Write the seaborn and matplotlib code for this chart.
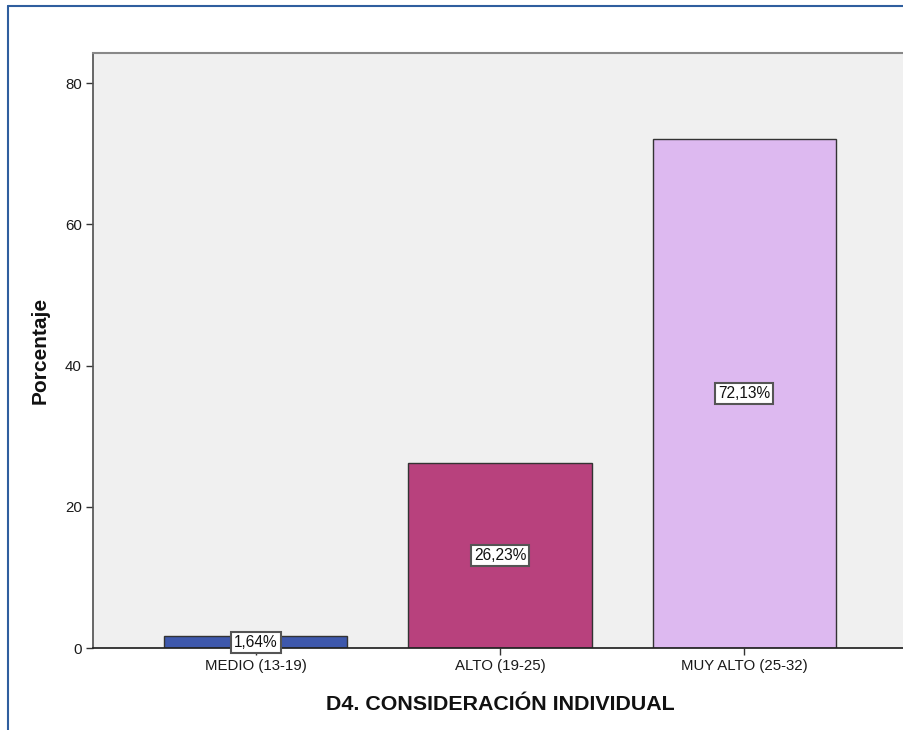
import matplotlib
matplotlib.use("Agg")
import matplotlib.pyplot as plt
import seaborn as sns
import pandas as pd
from matplotlib.lines import Line2D

categories = ["MEDIO (13-19)", "ALTO (19-25)", "MUY ALTO (25-32)"]
values = [1.64, 26.23, 72.13]
labels = ["1,64%", "26,23%", "72,13%"]
colors = ["#3E58AC", "#B8417D", "#DDB9F0"]
yticks = [0, 20, 40, 60, 80]

sns.set_theme(style="white")
plt.rcParams["font.family"] = ["Liberation Sans", "DejaVu Sans"]

df = pd.DataFrame({"cat": categories, "val": values})

fig = plt.figure(figsize=(9.04, 7.30), dpi=100)
fig.patch.set_facecolor("white")
ax = fig.add_axes([93/904, 82/730, 814/904, 595/730])
ax.set_facecolor("#F0F0F0")

sns.barplot(data=df, x="cat", y="val", hue="cat", palette=colors, legend=False,
            width=0.75, edgecolor="#333333", linewidth=1.0, saturation=1, ax=ax)

ax.set_xlim(-0.668, 2.668)
ax.set_ylim(0, 84.25)
ax.set_yticks(yticks)
ax.set_yticklabels([str(t) for t in yticks], fontsize=10.8, color="#1a1a1a")
ax.tick_params(axis="x", labelsize=10.8, labelcolor="#1a1a1a", length=5, width=1,
               color="#333333", direction="out", bottom=True, pad=3)
ax.tick_params(axis="y", length=5, width=1, color="#333333", direction="out", left=True, pad=3)

for i, (v, lab) in enumerate(zip(values, labels)):
    ax.text(i, v / 2, lab, ha="center", va="center", fontsize=11.2, color="#111111",
            bbox=dict(boxstyle="square,pad=0.18", facecolor="white", edgecolor="#555555", linewidth=1.5))

ax.set_xlabel("D4. CONSIDERACIÓN INDIVIDUAL", fontsize=15.4, fontweight="bold", labelpad=16, color="#111111")
ax.set_ylabel("Porcentaje", fontsize=15.0, fontweight="bold", labelpad=11, color="#111111")

for s in ["top", "left", "bottom", "right"]:
    ax.spines[s].set_visible(True)
ax.spines["top"].set_color("#888888")
ax.spines["top"].set_linewidth(1.5)
ax.spines["left"].set_color("#555555")
ax.spines["bottom"].set_color("#222222")
ax.spines["right"].set_visible(False)

# outer frame
fig.add_artist(Line2D([8/904, 8/904], [0, 1 - 6/730], color="#2F5E9E", linewidth=1.5))
fig.add_artist(Line2D([8/904, 1], [1 - 6/730, 1 - 6/730], color="#2F5E9E", linewidth=1.5))

fig.savefig("out.png", dpi=100)
